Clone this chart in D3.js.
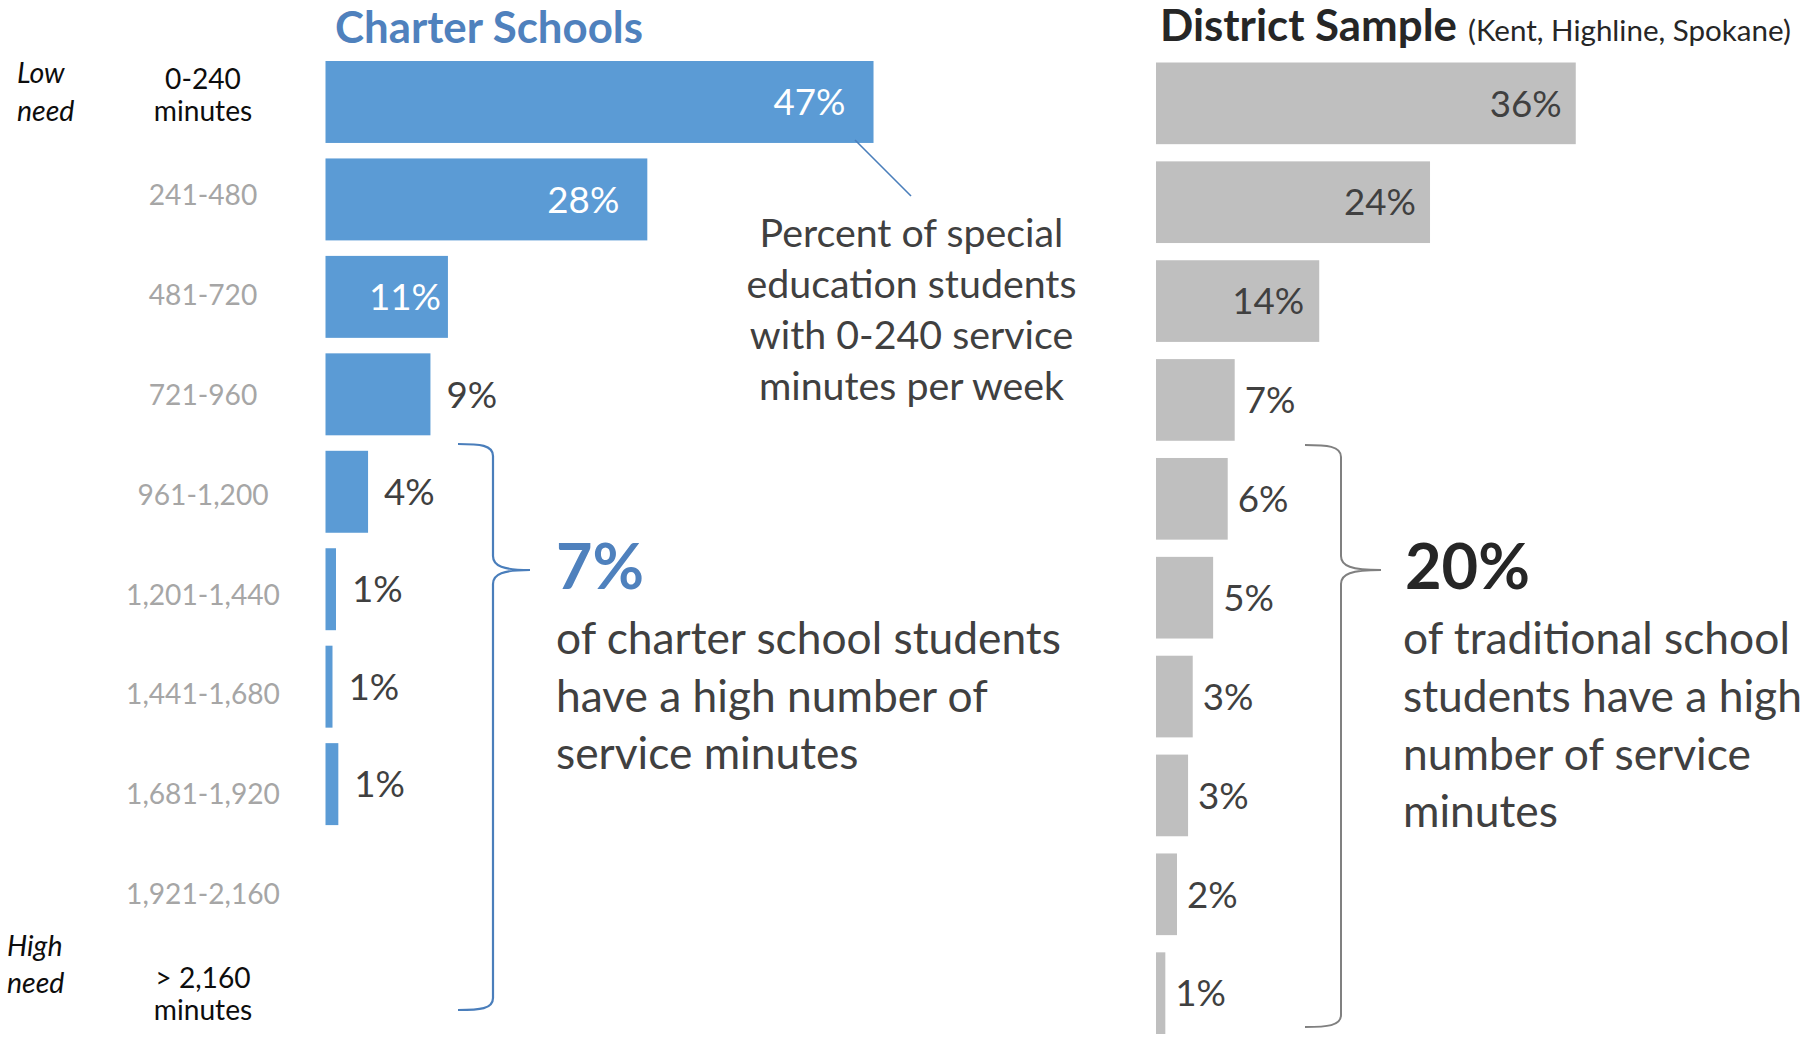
<!DOCTYPE html>
<html><head><meta charset="utf-8">
<script src="https://cdn.jsdelivr.net/npm/d3@7"></script>
<style>
body{margin:0;background:#fff;}
svg{display:block;}
text{font-family:Lato,"Open Sans","Noto Sans",sans-serif;}
</style>
</head><body>
<svg id="c" width="1816" height="1037"></svg>
<script>
// ---------- data ----------
const categories = ["0-240","241-480","481-720","721-960","961-1,200","1,201-1,440","1,441-1,680","1,681-1,920","1,921-2,160","> 2,160"];
const categoryLines = [["0-240","minutes"],["241-480"],["481-720"],["721-960"],["961-1,200"],["1,201-1,440"],["1,441-1,680"],["1,681-1,920"],["1,921-2,160"],["> 2,160","minutes"]];
const charterValues = [47, 27.6, 10.5, 9, 3.65, 0.9, 0.6, 1.1, null, null];
const charterLabels = ["47%","28%","11%","9%","4%","1%","1%","1%", null, null];
const districtValues = [36, 23.5, 14, 6.75, 6.15, 4.9, 3.15, 2.75, 1.8, 0.8];
const districtLabels = ["36%","24%","14%","7%","6%","5%","3%","3%","2%","1%"];
const charterTitle = "Charter Schools";
const districtTitle = "District Sample";
const districtSubtitle = "(Kent, Highline, Spokane)";
const charterHigh = "7%";
const districtHigh = "20%";
const charterNote = ["of charter school students","have a high number of","service minutes"];
const districtNote = ["of traditional school","students have a high","number of service","minutes"];
const calloutNote = ["Percent of special","education students","with 0-240 service","minutes per week"];
const lowNeed = ["Low","need"];
const highNeed = ["High","need"];

// ---------- styles ----------
const C = {blueBar:"#5b9bd5", blueText:"#4f81bd", blueLine:"#4a7ebb", grayBar:"#bfbfbf",
           dark:"#404040", darker:"#262626", catGray:"#a6a6a6", black:"#0d0d0d", brace:"#808080"};

const svg = d3.select("#c");

function addText(parent, lines, o){
  let fs = o.size || 40;
  const t = parent.append("text")
    .attr("font-size", fs)
    .attr("font-weight", o.weight || 400)
    .attr("font-style", o.style || "normal")
    .attr("fill", o.fill)
    .attr("text-anchor", o.anchor || "start");
  lines.forEach(l => t.append("tspan").attr("x", o.x).text(l));
  if (o.fit){ const w = t.node().getBBox().width; fs = fs * o.fit / w; t.attr("font-size", fs); }
  t.selectAll("tspan").attr("y", (d,i) => o.baseline ? o.ys[i] : o.ys[i] + 0.36*fs);
  return fs;
}
function measure(str, size, weight){
  const t = svg.append("text").attr("font-size", size).attr("font-weight", weight||400).text(str);
  const w = t.node().getBBox().width; t.remove(); return w;
}

// ---------- scales ----------
const pxPerPct = 11.66;
const xC = d3.scaleLinear().domain([0, 47]).range([325.5, 325.5 + 47*pxPerPct]);
const xD = d3.scaleLinear().domain([0, 36]).range([1156, 1156 + 36*pxPerPct]);
const yC = d3.scaleBand().domain(categories).range([61, 1020]).paddingInner(0.159).paddingOuter(0);
const yD = d3.scaleBand().domain(categories).range([62.5, 1034]).paddingInner(0.174).paddingOuter(0);
const yLab = d3.scalePoint().domain(categories).range([95, 994]);

const valFs = 40 * 72 / measure("47%", 40);
const catFs = 40 * 154 / measure("1,201-1,440", 40);

// ---------- category labels ----------
const gCat = svg.append("g");
categories.forEach((c,i) => {
  const lines = categoryLines[i];
  const cy = yLab(c);
  const ys = lines.length === 1 ? [cy] : [cy - 16, cy + 16];
  addText(gCat, lines, {x:203, ys, anchor:"middle", size:catFs, fill: lines.length > 1 ? C.black : C.catGray});
});

// Low / High need
const needFs = 40 * 62 / measure("need", 40);
addText(svg, lowNeed, {x:17, ys:[73,111], size:needFs, style:"italic", fill:C.black});
addText(svg, highNeed, {x:7, ys:[946,983], size:needFs, style:"italic", fill:C.black});

// label placement: inside (right-aligned) for long bars, outside otherwise
function labelX(x, d, insetWide, insetNarrow, gap){
  if (d.v >= 20) return x(d.v) - insetWide;
  if (d.v >= 10) return x(d.v) - insetNarrow;
  return x(d.v) + gap;
}

// ---------- charter bars ----------
const charterData = categories.map((c,i) => ({c, v:charterValues[i], l:charterLabels[i]})).filter(d => d.v != null);
const gC = svg.append("g");
gC.selectAll("rect").data(charterData).join("rect")
  .attr("x", xC(0)).attr("y", d => yC(d.c))
  .attr("width", d => xC(d.v) - xC(0)).attr("height", yC.bandwidth())
  .attr("fill", C.blueBar);
gC.selectAll("text").data(charterData).join("text")
  .attr("font-size", valFs)
  .attr("x", d => labelX(xC, d, 28, 7, 16))
  .attr("y", d => yC(d.c) + yC.bandwidth()/2 + 0.36*valFs)
  .attr("text-anchor", d => d.v >= 10 ? "end" : "start")
  .attr("fill", d => d.v >= 10 ? "#ffffff" : C.dark)
  .text(d => d.l);

// ---------- district bars ----------
const districtData = categories.map((c,i) => ({c, v:districtValues[i], l:districtLabels[i]})).filter(d => d.v != null);
const gD = svg.append("g");
gD.selectAll("rect").data(districtData).join("rect")
  .attr("x", xD(0)).attr("y", d => yD(d.c))
  .attr("width", d => xD(d.v) - xD(0)).attr("height", yD.bandwidth())
  .attr("fill", C.grayBar);
gD.selectAll("text").data(districtData).join("text")
  .attr("font-size", valFs)
  .attr("x", d => labelX(xD, d, 14, 15, 10))
  .attr("y", d => yD(d.c) + yD.bandwidth()/2 + 0.36*valFs)
  .attr("text-anchor", d => d.v >= 10 ? "end" : "start")
  .attr("fill", C.dark)
  .text(d => d.l);

// ---------- titles ----------
addText(svg, [charterTitle], {x:489, ys:[43], baseline:true, anchor:"middle", weight:700, fill:C.blueText, fit:308});
addText(svg, [districtTitle], {x:1160, ys:[41], baseline:true, weight:700, fill:C.darker, fit:297});
addText(svg, [districtSubtitle], {x:1468, ys:[41], baseline:true, fill:C.darker, fit:323});

// ---------- callout ----------
svg.append("line").attr("x1",855).attr("y1",140).attr("x2",911).attr("y2",196)
  .attr("stroke", C.blueLine).attr("stroke-width",1.6);
addText(svg, calloutNote, {x:911.5, ys:[233,284,335,386], anchor:"middle", fill:C.dark, fit:330});

// ---------- braces ----------
function brace(x0, xv, xt, y0, yt, y1){
  return `M${x0},${y0} C${x0+22},${y0} ${xv},${y0+1} ${xv},${y0+12}`+
         ` L${xv},${yt-14} C${xv},${yt-4} ${xv+10},${yt} ${xt},${yt}`+
         ` C${xv+10},${yt} ${xv},${yt+4} ${xv},${yt+14}`+
         ` L${xv},${y1-12} C${xv},${y1-1} ${x0+22},${y1} ${x0},${y1}`;
}
svg.append("path").attr("d", brace(458, 493, 530, 444, 570, 1010))
  .attr("fill","none").attr("stroke", C.blueLine).attr("stroke-width",2.2);
svg.append("path").attr("d", brace(1305, 1341, 1381, 445, 570, 1027))
  .attr("fill","none").attr("stroke", C.brace).attr("stroke-width",2);

// ---------- summary stats ----------
addText(svg, [charterHigh], {x:556, ys:[589], baseline:true, weight:700, fill:C.blueText, fit:88});
addText(svg, charterNote, {x:556, ys:[638,696,753], fill:C.dark, fit:505});
addText(svg, [districtHigh], {x:1405, ys:[589], baseline:true, weight:700, fill:C.darker, fit:125});
addText(svg, districtNote, {x:1403, ys:[638,696,754,811], fill:C.dark, fit:399});
</script>
</body></html>
